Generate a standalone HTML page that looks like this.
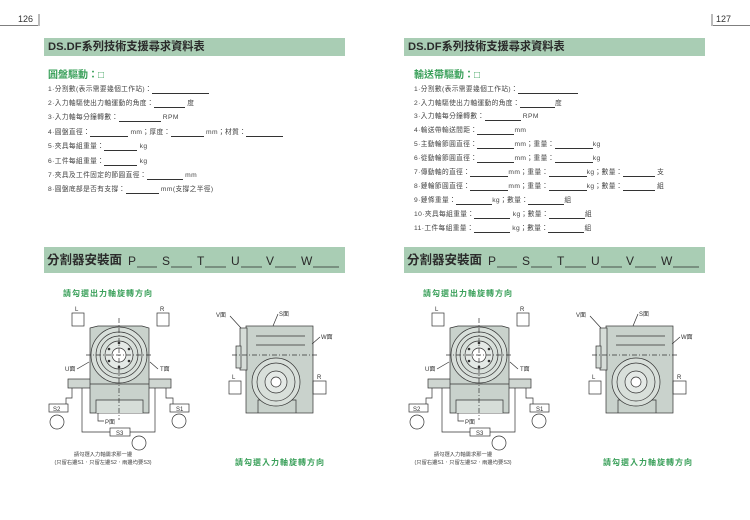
<!DOCTYPE html>
<html><head><meta charset="utf-8"><style>
*{margin:0;padding:0;box-sizing:border-box}
body{width:750px;height:520px;background:#fff;position:relative;overflow:hidden;font-family:"Liberation Sans","Noto Sans CJK TC",sans-serif;color:#333}
.a{position:absolute;white-space:nowrap}
.bar{position:absolute;background:#a9cdb4;height:18px;width:301px;top:38px;font-size:11.2px;font-weight:bold;color:#2a2a2a;padding-left:4px;line-height:18px;white-space:nowrap}
.sec{position:absolute;background:#a9cdb4;height:26px;width:301px;top:247px;font-size:12.5px;font-weight:bold;color:#2a2a2a;padding-left:3px;line-height:26px;white-space:nowrap}
.gh{position:absolute;font-size:10px;font-weight:bold;color:#3aa05a;top:70px;line-height:12px;white-space:nowrap}
.it{position:absolute;font-size:6.7px;color:#444;letter-spacing:.4px;line-height:8px;white-space:nowrap}
.b{display:inline-block;border-bottom:0.8px solid #333;height:6px;vertical-align:bottom}
.gt{position:absolute;font-size:8px;font-weight:bold;color:#3aa05a;letter-spacing:1px;white-space:nowrap}
.L{position:absolute;font-size:12px;color:#2a2a2a;top:254px;line-height:14px}
</style></head><body>
<div class="a" style="left:18px;top:14px;font-size:9px">126</div>
<div class="a" style="left:716px;top:14px;font-size:9px">127</div>
<svg class="a" style="left:0;top:0" width="750" height="520">
<line x1="0" y1="25.5" x2="38" y2="25.5" stroke="#555" stroke-width="0.8"/>
<line x1="39" y1="14" x2="39" y2="26" stroke="#555" stroke-width="0.8"/>
<line x1="713" y1="25.5" x2="750" y2="25.5" stroke="#555" stroke-width="0.8"/>
<line x1="712" y1="14" x2="712" y2="26" stroke="#555" stroke-width="0.8"/>
</svg>
<div class="bar" style="left:44px">DS.DF系列技術支援尋求資料表</div>
<div class="bar" style="left:404px">DS.DF系列技術支援尋求資料表</div>
<div class="gh" style="left:48px">圓盤驅動：□</div>
<div class="gh" style="left:414px">輸送帶驅動：□</div>

<div class="it" style="left:48px;top:86px">1·分割數(表示需要幾個工作站)：<span class="b" style="width:57px"></span></div>
<div class="it" style="left:48px;top:100px">2·入力軸驅使出力軸運動的角度：<span class="b" style="width:31px"></span> 度</div>
<div class="it" style="left:48px;top:114px">3·入力軸每分鐘轉數：<span class="b" style="width:42px"></span> RPM</div>
<div class="it" style="left:48px;top:129px">4·圓盤直徑：<span class="b" style="width:38px"></span> mm；厚度：<span class="b" style="width:33px"></span> mm；材質：<span class="b" style="width:37px"></span></div>
<div class="it" style="left:48px;top:143px">5·夾具每組重量：<span class="b" style="width:33px"></span> kg</div>
<div class="it" style="left:48px;top:158px">6·工件每組重量：<span class="b" style="width:33px"></span> kg</div>
<div class="it" style="left:48px;top:172px">7·夾具及工件固定的節圓直徑：<span class="b" style="width:36px"></span> mm</div>
<div class="it" style="left:48px;top:186px">8·圓盤底部是否有支撐：<span class="b" style="width:33px"></span> mm(支撐之半徑)</div>

<div class="it" style="left:414px;top:86px">1·分割數(表示需要幾個工作站)：<span class="b" style="width:60px"></span></div>
<div class="it" style="left:414px;top:100px">2·入力軸驅使出力軸運動的角度：<span class="b" style="width:35px"></span>度</div>
<div class="it" style="left:414px;top:113px">3·入力軸每分鐘轉數：<span class="b" style="width:36px"></span> RPM</div>
<div class="it" style="left:414px;top:127px">4·輸送帶輸送間距：<span class="b" style="width:37px"></span>mm</div>
<div class="it" style="left:414px;top:141px">5·主動輪節圓直徑：<span class="b" style="width:37px"></span>mm；重量：<span class="b" style="width:38px"></span>kg</div>
<div class="it" style="left:414px;top:155px">6·從動輪節圓直徑：<span class="b" style="width:37px"></span>mm；重量：<span class="b" style="width:38px"></span>kg</div>
<div class="it" style="left:414px;top:169px">7·傳動軸的直徑：<span class="b" style="width:38px"></span>mm；重量：<span class="b" style="width:38px"></span>kg；數量：<span class="b" style="width:32px"></span> 支</div>
<div class="it" style="left:414px;top:183px">8·鏈輪節圓直徑：<span class="b" style="width:38px"></span>mm；重量：<span class="b" style="width:38px"></span>kg；數量：<span class="b" style="width:32px"></span> 組</div>
<div class="it" style="left:414px;top:197px">9·鏈條重量：<span class="b" style="width:36px"></span>kg；數量：<span class="b" style="width:36px"></span>組</div>
<div class="it" style="left:414px;top:211px">10·夾具每組重量：<span class="b" style="width:36px"></span> kg；數量：<span class="b" style="width:36px"></span>組</div>
<div class="it" style="left:414px;top:225px">11·工件每組重量：<span class="b" style="width:36px"></span> kg；數量：<span class="b" style="width:36px"></span>組</div>

<div class="sec" style="left:44px">分割器安裝面</div>
<div class="sec" style="left:404px">分割器安裝面</div>
<div class="L" style="left:128px">P</div><div class="L" style="left:162px">S</div><div class="L" style="left:197px">T</div><div class="L" style="left:231px">U</div><div class="L" style="left:266px">V</div><div class="L" style="left:301px">W</div>
<div class="L" style="left:488px">P</div><div class="L" style="left:522px">S</div><div class="L" style="left:557px">T</div><div class="L" style="left:591px">U</div><div class="L" style="left:626px">V</div><div class="L" style="left:661px">W</div>
<svg class="a" style="left:0;top:0" width="750" height="520">
<g stroke="#2a2a2a" stroke-width="0.8">
<line x1="137" y1="267" x2="157" y2="267"/><line x1="171" y1="267" x2="192" y2="267"/><line x1="205" y1="267" x2="226" y2="267"/><line x1="241" y1="267" x2="262" y2="267"/><line x1="275" y1="267" x2="296" y2="267"/><line x1="313" y1="267" x2="339" y2="267"/>
<line x1="497" y1="267" x2="517" y2="267"/><line x1="531" y1="267" x2="552" y2="267"/><line x1="565" y1="267" x2="586" y2="267"/><line x1="601" y1="267" x2="622" y2="267"/><line x1="635" y1="267" x2="656" y2="267"/><line x1="673" y1="267" x2="699" y2="267"/>
</g></svg>

<div class="gt" style="left:63px;top:288px">請勾選出力軸旋轉方向</div>
<div class="gt" style="left:423px;top:288px">請勾選出力軸旋轉方向</div>
<div class="gt" style="left:235px;top:457px">請勾選入力軸旋轉方向</div>
<div class="gt" style="left:603px;top:457px">請勾選入力軸旋轉方向</div>
<div class="a" style="left:53px;top:451px;font-size:5.3px;line-height:8px;text-align:center;width:100px;color:#444">請勾選入力軸需求那一邊<br>(只留右邊S1．只留左邊S2．兩邊均要S3)</div>
<div class="a" style="left:413px;top:451px;font-size:5.3px;line-height:8px;text-align:center;width:100px;color:#444">請勾選入力軸需求那一邊<br>(只留右邊S1．只留左邊S2．兩邊均要S3)</div>

<svg class="a" style="left:0;top:0" width="750" height="520">
<defs>
<g id="dg" fill="none" stroke="#333" stroke-width="0.7" font-family="Liberation Sans,Noto Sans CJK TC,sans-serif" font-size="6">
<text x="75" y="311" fill="#333" stroke="none">L</text><rect x="72" y="313" width="12" height="13"/>
<text x="160" y="311" fill="#333" stroke="none">R</text><rect x="157" y="313" width="12" height="13"/>
<rect x="68" y="379" width="103" height="9" fill="#cfd6d1"/>
<path d="M90 328 L98 326 L142 326 L149 328 L149 413 L90 413 Z" fill="#c9d2cc"/>
<line x1="90" y1="384" x2="149" y2="384"/>
<path d="M96 413 L96 400 L143 400 L143 413" fill="#d6ddd8"/>
<circle cx="119" cy="355" r="28" fill="#d8dfda"/>
<circle cx="119" cy="355" r="23"/><circle cx="119" cy="355" r="19"/>
<circle cx="119" cy="355" r="14" fill="#e4e9e6"/><circle cx="119" cy="355" r="7" fill="#fff"/>
<g fill="#333" stroke="none"><circle cx="119" cy="343" r="1.3"/><circle cx="119" cy="367" r="1.3"/><circle cx="109" cy="349" r="1.3"/><circle cx="129" cy="349" r="1.3"/><circle cx="109" cy="361" r="1.3"/><circle cx="129" cy="361" r="1.3"/></g>
<line x1="119" y1="318" x2="119" y2="420" stroke-dasharray="5 2 1 2"/>
<line x1="86" y1="355" x2="152" y2="355" stroke-dasharray="5 2 1 2"/>
<text x="65" y="371" fill="#333" stroke="none">U面</text><line x1="77" y1="369" x2="89" y2="362"/>
<text x="160" y="371" fill="#333" stroke="none">T面</text><line x1="158" y1="369" x2="150" y2="362"/>
<polyline points="72,388 72,398 66,398 66,404"/><rect x="49" y="404" width="19" height="8" fill="#fff"/><text x="53" y="411" fill="#333" stroke="none">S2</text>
<circle cx="57" cy="422" r="7"/>
<polyline points="166,388 166,398 173,398 173,404"/><rect x="170" y="404" width="19" height="8" fill="#fff"/><text x="176" y="411" fill="#333" stroke="none">S1</text>
<circle cx="179" cy="421" r="7"/>
<polyline points="82,388 82,432 110,432"/><polyline points="155,388 155,432 130,432"/>
<rect x="110" y="428" width="20" height="8" fill="#fff"/><text x="116" y="435" fill="#333" stroke="none">S3</text>
<circle cx="139" cy="443" r="7"/>
<polyline points="98,413 98,421 104,421"/><text x="105" y="424" fill="#333" stroke="none">P面</text>
<rect x="246" y="326" width="67" height="87" fill="#c9d2cc"/>
<rect x="240" y="328" width="7" height="42" fill="#d6ddd8"/>
<rect x="236" y="346" width="5" height="22" fill="#d6ddd8"/>
<line x1="256" y1="336" x2="305" y2="336"/><line x1="256" y1="345" x2="305" y2="345"/>
<line x1="232" y1="355" x2="318" y2="355" stroke-dasharray="5 2 1 2"/>
<path d="M258 413 L258 400 L296 400 L296 413"/>
<circle cx="276" cy="382" r="24" fill="#d8dfda"/><circle cx="276" cy="382" r="19"/>
<circle cx="276" cy="382" r="11" fill="#e4e9e6"/><circle cx="276" cy="382" r="5" fill="#fff"/>
<text x="216" y="317" fill="#333" stroke="none">V面</text><line x1="230" y1="316" x2="241" y2="328"/>
<text x="279" y="316" fill="#333" stroke="none">S面</text><line x1="278" y1="314" x2="273" y2="326"/>
<text x="321" y="339" fill="#333" stroke="none">W面</text><line x1="320" y1="337" x2="312" y2="344"/>
<text x="232" y="379" fill="#333" stroke="none">L</text><rect x="229" y="381" width="12" height="13"/>
<text x="317" y="379" fill="#333" stroke="none">R</text><rect x="313" y="381" width="13" height="13"/>
</g>
</defs>
<use href="#dg"/>
<use href="#dg" transform="translate(360,0)"/>
</svg>
</body></html>
